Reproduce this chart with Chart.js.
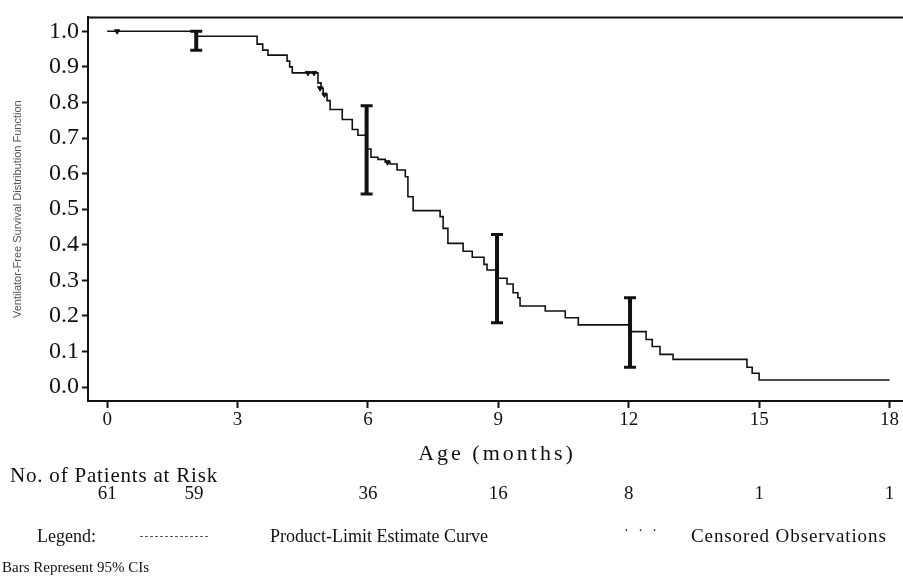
<!DOCTYPE html>
<html>
<head>
<meta charset="utf-8">
<script src="https://cdn.jsdelivr.net/npm/chart.js@4.4.1/dist/chart.umd.min.js"></script>
<style>
    body { margin: 0; background: #fff; }
    #wrap { position: relative; width: 903px; height: 578px; font-family: "Liberation Serif", "Times New Roman", serif; color: #111; }
    #km { position: absolute; left: 0; top: 0; }
    .t { position: absolute; white-space: nowrap; line-height: 1; }
</style>
</head>
<body>
<div id="wrap">
    <canvas id="km" width="903" height="578"></canvas>
    <div class="t" id="x-title" style="left:0; width:994px; text-align:center; top:442px; font-size:22px; letter-spacing:3px;">Age (months)</div>
    <div class="t" style="left:10px; top:465px; font-size:21px; letter-spacing:0.8px;">No. of Patients at Risk</div>
    <div id="risk-row"></div>
    <div class="t" style="left:37px; top:527px; font-size:18px;">Legend:</div>
    <div style="position:absolute; left:140px; top:536px; width:68px; border-top:1px dashed #555;"></div>
    <div class="t" style="left:270px; top:527px; font-size:18px;">Product-Limit Estimate Curve</div>
    <div class="t" style="left:624px; top:524px; font-size:14px; letter-spacing:3px;">· · ·</div>
    <div class="t" style="left:691px; top:526px; font-size:19px; letter-spacing:0.9px;">Censored Observations</div>
    <div class="t" style="left:2px; top:560px; font-size:15px;">Bars Represent 95% CIs</div>
</div>
<script>
// Kaplan-Meier curve
const stepTimes = [0, 2.05, 3.45, 3.58, 3.70, 4.14, 4.20, 4.26, 4.85, 4.92, 4.97, 5.06, 5.13, 5.41, 5.64, 5.77,
    5.96, 6.07, 6.23, 6.40, 6.51, 6.67, 6.86, 6.92, 7.04, 7.66, 7.73, 7.84, 8.19, 8.40, 8.67, 8.74, 8.97,
    9.20, 9.34, 9.45, 9.50, 10.08, 10.54, 10.84, 12.03, 12.40, 12.54, 12.72, 13.02, 14.72, 14.84, 15.0, 18.0];
const survival = [1.0, 0.986, 0.964, 0.947, 0.933, 0.916, 0.900, 0.883, 0.855, 0.840, 0.822, 0.805, 0.780, 0.752, 0.724, 0.708,
    0.669, 0.646, 0.640, 0.632, 0.627, 0.610, 0.591, 0.535, 0.496, 0.479, 0.446, 0.404, 0.382, 0.365, 0.345, 0.329, 0.306,
    0.290, 0.265, 0.251, 0.228, 0.214, 0.195, 0.175, 0.156, 0.134, 0.114, 0.092, 0.078, 0.056, 0.039, 0.020, 0.020];

// censored observations
const censorTimes = [0.23, 4.62, 4.76, 4.90, 5.00, 6.45];
const censorValues = [1.0, 0.883, 0.883, 0.840, 0.822, 0.632];

// 95% CI bars
const ciTimes = [2.05, 5.97, 8.97, 12.03];
const ciLower = [0.947, 0.543, 0.181, 0.056];
const ciUpper = [1.0, 0.791, 0.429, 0.251];

// patients at risk
const riskTimes = [0, 2, 6, 9, 12, 15, 18];
const riskCounts = [61, 59, 36, 16, 8, 1, 1];

const xTicks = [0, 3, 6, 9, 12, 15, 18];
const yTicks = [0, 0.1, 0.2, 0.3, 0.4, 0.5, 0.6, 0.7, 0.8, 0.9, 1.0];

const datasets = [];
datasets.push({
    label: 'Product-Limit Estimate Curve',
    data: stepTimes.map((t, i) => ({ x: t, y: survival[i] })),
    stepped: 'before',
    borderColor: '#111',
    borderWidth: 1.6,
    pointRadius: 0,
    fill: false
});
datasets.push({
    label: 'Censored Observations',
    type: 'scatter',
    data: censorTimes.map((t, i) => ({ x: t, y: censorValues[i] })),
    pointStyle: 'triangle',
    rotation: 180,
    pointRadius: 3,
    backgroundColor: '#111',
    borderColor: '#111',
    borderWidth: 1
});
ciTimes.forEach((t, i) => {
    datasets.push({
        label: 'CI ' + t,
        data: [{ x: t, y: ciLower[i] }, { x: t, y: ciUpper[i] }],
        borderColor: '#111',
        borderWidth: 4,
        pointStyle: 'line',
        pointRadius: 6,
        pointBorderWidth: 3,
        pointBorderColor: '#111',
        fill: false
    });
});

// top frame line
const topFrame = {
    id: 'topFrame',
    afterDraw(chart) {
        const a = chart.chartArea, ctx = chart.ctx;
        ctx.save();
        ctx.strokeStyle = '#111';
        ctx.lineWidth = 2;
        ctx.beginPath();
        ctx.moveTo(a.left, a.top);
        ctx.lineTo(a.right, a.top);
        ctx.stroke();
        ctx.restore();
    }
};

const chart = new Chart(document.getElementById('km'), {
    type: 'line',
    data: { datasets },
    options: {
        responsive: false,
        animation: false,
        layout: { padding: { top: 14, left: 0, right: 0, bottom: 0 }, autoPadding: false },
        plugins: { legend: { display: false }, tooltip: { enabled: false } },
        scales: {
            x: {
                type: 'linear',
                min: -0.44,
                max: 18.31,
                afterFit: s => { s.height = 177; },
                afterBuildTicks: s => { s.ticks = xTicks.map(v => ({ value: v })); },
                grid: { drawOnChartArea: false, drawTicks: true, tickLength: 7, color: '#111', tickWidth: 2 },
                border: { display: true, color: '#111', width: 2 },
                ticks: {
                    color: '#111', padding: 1, maxRotation: 0,
                    font: { family: 'Liberation Serif', size: 19 },
                    callback: v => String(v)
                }
            },
            y: {
                type: 'linear',
                min: -0.039,
                max: 1.039,
                afterFit: s => { s.width = 88; },
                afterBuildTicks: s => { s.ticks = yTicks.map(v => ({ value: v })); },
                grid: { drawOnChartArea: false, drawTicks: true, tickLength: 6, color: '#111', tickWidth: 2 },
                border: { display: true, color: '#111', width: 2 },
                ticks: {
                    color: '#111', padding: 3,
                    font: { family: 'Liberation Serif', size: 24 },
                    callback: v => Number(v).toFixed(1)
                },
                title: {
                    display: true,
                    text: 'Ventilator-Free Survival Distribution Function',
                    color: '#555',
                    padding: { top: 11, bottom: 0 },
                    font: { family: 'Liberation Sans', size: 11 }
                }
            }
        }
    },
    plugins: [topFrame]
});

// at-risk numbers under the matching months
const row = document.getElementById('risk-row');
riskTimes.forEach((t, i) => {
    const el = document.createElement('div');
    el.className = 't';
    el.textContent = riskCounts[i];
    el.style.fontSize = '19px';
    el.style.top = '483px';
    el.style.width = '40px';
    el.style.textAlign = 'center';
    el.style.left = (chart.scales.x.getPixelForValue(t) - 20) + 'px';
    row.appendChild(el);
});
</script>
</body>
</html>
